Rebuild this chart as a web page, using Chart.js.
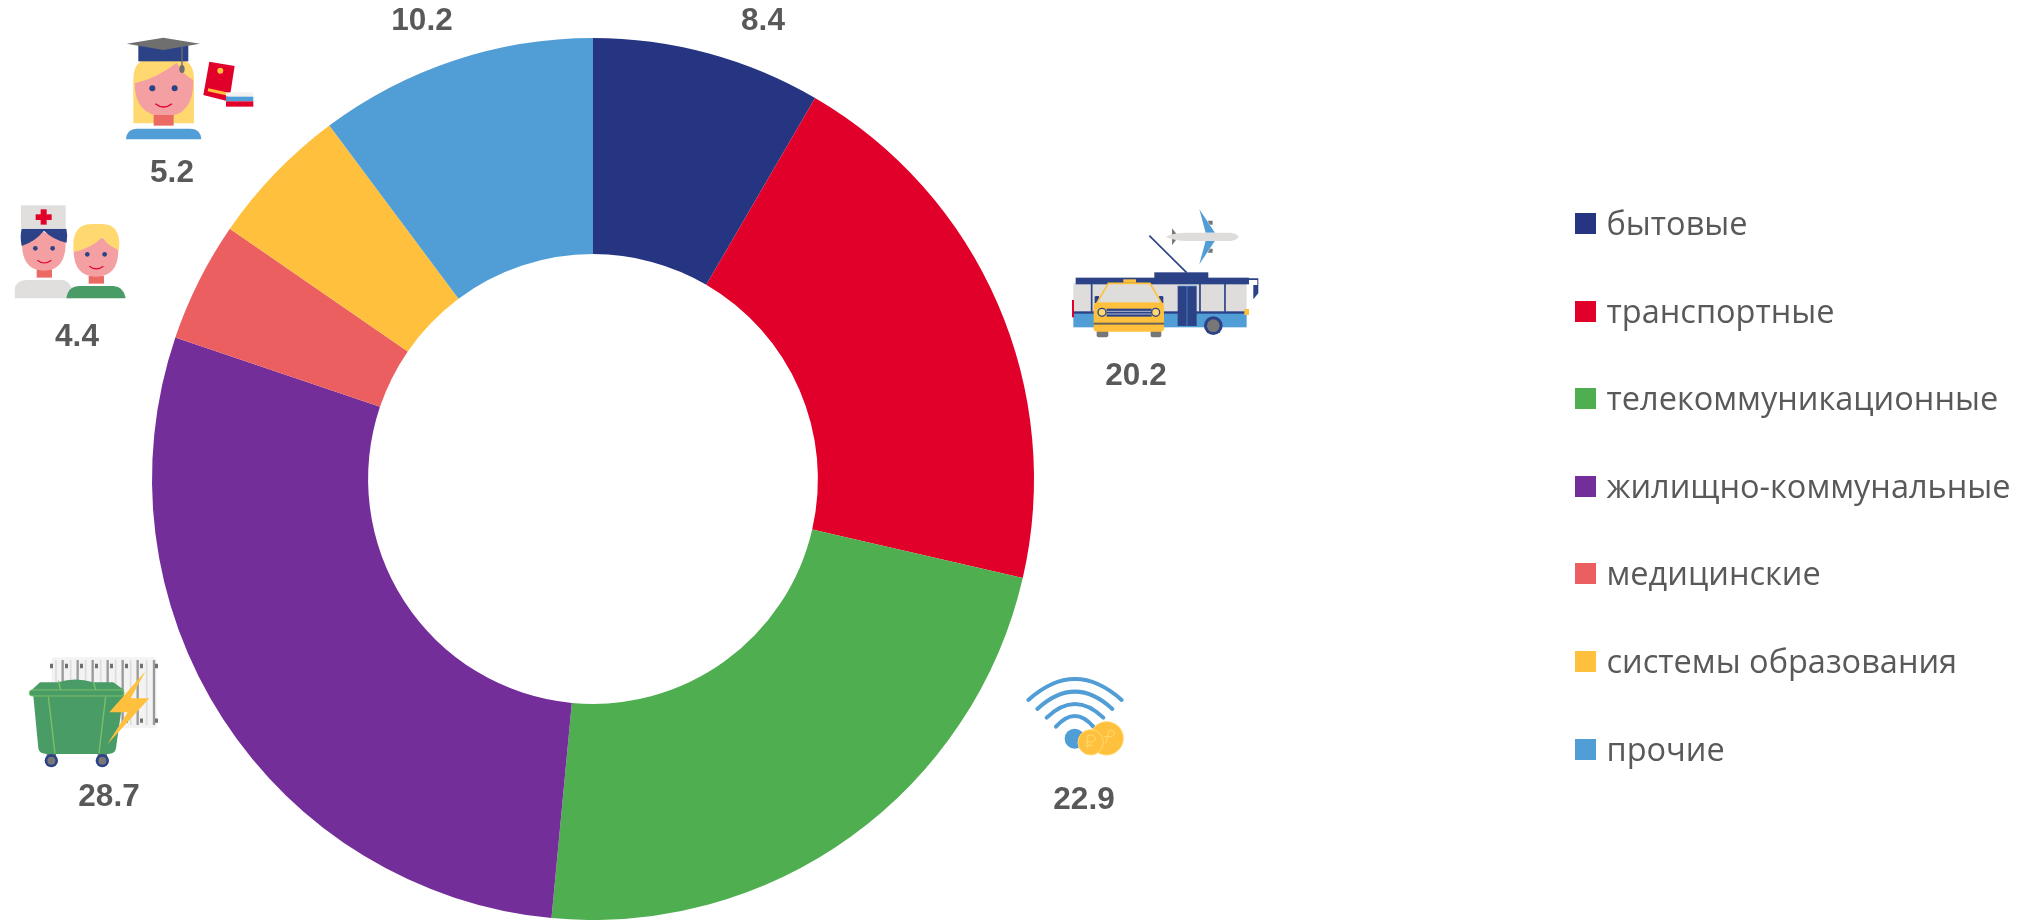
<!DOCTYPE html>
<html lang="ru">
<head>
<meta charset="utf-8">
<title>Платные услуги</title>
<script src="https://cdn.jsdelivr.net/npm/chart.js@4"></script>
<style>
    html, body { margin: 0; background: #fff; overflow: hidden; }
    #wrap { position: relative; width: 2031px; height: 920px; overflow: hidden; }
    #myChart { position: absolute; left: 0; top: 0; }
    #icons { position: absolute; left: 0; top: 0; pointer-events: none; filter: blur(0.5px); }
    #legend { position: absolute; left: 1575px; top: 213px; font: 32.5px "Open Sans", sans-serif; color: #595959; }
    #legend div { position: relative; height: 87.6px; line-height: 20px; padding-left: 31.5px; white-space: nowrap; }
    #legend i { position: absolute; left: 0; top: 0; width: 21px; height: 21px; }
</style>
</head>
<body>
<div id="wrap">
    <canvas id="myChart" width="2031" height="920"></canvas>
    <svg id="icons" width="2031" height="920" viewBox="0 0 2031 920" xmlns="http://www.w3.org/2000/svg">
        <!-- icons are traced at 3x from the reference crops, so each group scales down by 3 -->
        <!-- graduate -->
        <g transform="scale(0.3333)">
            <path d="M400 240 Q400 182 440 180 H545 Q582 185 582 240 V370 H400 Z" fill="#ffd96f"/>
            <path d="M404 250 Q470 235 530 188 Q550 225 580 240 Q582 350 491 350 Q404 345 404 250 Z" fill="#f4a0a2"/>
            <rect x="461" y="345" width="60" height="32" fill="#ec6a64"/>
            <path d="M378 418 Q380 386 410 386 H572 Q602 386 604 418 Z" fill="#519dd6"/>
            <rect x="415" y="135" width="150" height="49" fill="#2b4287"/>
            <path d="M380 131 L490 113 L600 131 L490 150 Z" fill="#6f6f6f"/>
            <path d="M546 140 V200" stroke="#6f6f6f" stroke-width="4"/>
            <ellipse cx="546" cy="207" rx="8" ry="12" fill="#6f6f6f"/>
            <circle cx="457" cy="265" r="9" fill="#2b4287"/>
            <circle cx="524" cy="265" r="9" fill="#2b4287"/>
            <path d="M466 311 Q491 331 516 311" fill="none" stroke="#e1002a" stroke-width="4"/>
            <path d="M628 185 L704 198 L692 275 L678 302 L610 285 Z" fill="#e1002a"/>
            <circle cx="661" cy="212" r="9" fill="#ffc13d"/>
            <path d="M625 265 L680 277 L678 286 L623 274 Z" fill="#ffc13d"/>
            <rect x="678" y="277" width="82" height="13" fill="#f2f2f2"/>
            <rect x="678" y="290" width="82" height="14" fill="#519dd6"/>
            <rect x="678" y="304" width="82" height="16" fill="#e1002a"/>
        </g>
        <!-- nurse and patient -->
        <g transform="scale(0.3333)">
            <path d="M44 895 V870 Q46 840 80 840 H190 Q215 845 225 895 Z" fill="#e0dfdd"/>
            <rect x="110" y="808" width="46" height="25" fill="#ec6a64"/>
            <path d="M66 730 L130 695 L197 725 Q198 812 132 812 Q66 812 66 730 Z" fill="#f4a0a2"/>
            <path d="M65 686 H199 Q204 705 200 728 Q160 720 132 692 Q105 725 65 738 Q59 710 65 686 Z" fill="#2b4287"/>
            <rect x="63" y="616" width="134" height="70" fill="#e0dfdd"/>
            <rect x="122" y="628" width="18" height="46" fill="#e1002a"/>
            <rect x="107" y="643" width="48" height="17" fill="#e1002a"/>
            <circle cx="106" cy="745" r="7" fill="#2b4287"/>
            <circle cx="158" cy="745" r="7" fill="#2b4287"/>
            <path d="M112 781 Q133 797 154 781" fill="none" stroke="#e1002a" stroke-width="3.5"/>
            <path d="M199 895 Q204 858 240 858 H340 Q372 860 377 895 Z" fill="#4a9c66"/>
            <rect x="266" y="828" width="46" height="23" fill="#ec6a64"/>
            <path d="M221 750 L305 712 L355 750 Q355 830 288 830 Q221 830 221 750 Z" fill="#f4a0a2"/>
            <path d="M221 756 Q212 672 275 672 H305 Q365 672 357 750 Q325 740 307 712 Q275 745 221 756 Z" fill="#ffd96f"/>
            <circle cx="262" cy="763" r="7" fill="#2b4287"/>
            <circle cx="314" cy="763" r="7" fill="#2b4287"/>
            <path d="M268 799 Q289 815 310 799" fill="none" stroke="#e1002a" stroke-width="3.5"/>
        </g>
        <!-- trolleybus, taxi and plane -->
        <g transform="translate(1040 200) scale(0.3333)">
            <path d="M478 28 L525 98 H497 Z M478 193 L525 122 H497 Z" fill="#519dd6"/>
            <path d="M503 62 H518 V74 H510 Z M503 158 H518 V146 H510 Z" fill="#777"/>
            <path d="M396 85 L408 100 V120 L396 136 Z" fill="#777"/>
            <path d="M378 110 Q400 98 440 98 H570 Q590 100 596 110 Q590 121 570 123 H440 Q400 122 378 110 Z" fill="#dfdddc"/>
            <path d="M328 107 L440 218" stroke="#2b4287" stroke-width="5"/>
            <rect x="100" y="250" width="520" height="90" fill="#dfdddc"/>
            <rect x="100" y="338" width="520" height="44" fill="#519dd6"/>
            <rect x="343" y="217" width="162" height="20" fill="#2b4287"/>
            <rect x="107" y="233" width="520" height="20" fill="#2b4287"/>
            <rect x="100" y="334" width="520" height="7" fill="#2b4287"/>
            <path d="M155 250 V335 M480 250 V335 M555 250 V335" stroke="#2b4287" stroke-width="5"/>
            <rect x="413" y="258" width="57" height="120" fill="#2b4287"/>
            <path d="M441 258 V378" stroke="#519dd6" stroke-width="2"/>
            <path d="M413 258 H470" stroke="#519dd6" stroke-width="2"/>
            <circle cx="520" cy="377" r="28" fill="#2b4287"/>
            <circle cx="520" cy="377" r="19" fill="#777"/>
            <path d="M627 235 H655 V280 L640 298 V255 H652 V240 H627 Z" fill="#2b4287"/>
            <rect x="96" y="300" width="6" height="52" fill="#e1002a"/>
            <rect x="613" y="327" width="14" height="18" fill="#ffc13d"/>
            <rect x="170" y="390" width="35" height="22" rx="6" fill="#777"/>
            <rect x="332" y="390" width="32" height="22" rx="6" fill="#777"/>
            <rect x="164" y="288" width="14" height="24" rx="4" fill="#2b4287"/>
            <rect x="356" y="288" width="14" height="24" rx="4" fill="#2b4287"/>
            <path d="M205 250 H330 L365 310 H170 Z" fill="#dfdddc" stroke="#ffc13d" stroke-width="5"/>
            <rect x="250" y="238" width="38" height="10" fill="#ffc13d"/>
            <rect x="161" y="308" width="211" height="87" rx="10" fill="#ffc13d"/>
            <rect x="200" y="326" width="135" height="24" fill="#2b4287"/>
            <path d="M200 334 H335 M200 342 H335" stroke="#cfd3e0" stroke-width="2.5"/>
            <circle cx="186" cy="337" r="12" fill="#ffd96f" stroke="#2b4287" stroke-width="4"/>
            <circle cx="347" cy="337" r="12" fill="#ffd96f" stroke="#2b4287" stroke-width="4"/>
            <rect x="161" y="368" width="211" height="6" fill="#6a6456"/>
        </g>
        <!-- wifi and coins -->
        <g transform="translate(1000 660) scale(0.3333)">
            <g fill="none" stroke="#519dd6" stroke-width="12" stroke-linecap="round">
                <path d="M85 120 Q225 -6 365 120"/>
                <path d="M112 147 Q225 43 337 147"/>
                <path d="M140 173 Q225 91 310 173"/>
                <path d="M168 200 Q225 136 280 200"/>
            </g>
            <circle cx="224" cy="236" r="30" fill="#519dd6"/>
            <circle cx="320" cy="235" r="50" fill="#ffc13d" stroke="#ffd96f" stroke-width="3"/>
            <circle cx="272" cy="247" r="38" fill="#ffc13d" stroke="#ffd96f" stroke-width="3"/>
            <path d="M263 268 V226 H280 Q292 236 280 246 H256 M256 256 H278" fill="none" stroke="#ffd96f" stroke-width="3"/>
            <path d="M318 250 L326 212 H340 Q348 222 336 230 H312" fill="none" stroke="#ffd96f" stroke-width="3"/>
        </g>
        <!-- bin, radiator and bolt -->
        <g transform="translate(0 640) scale(0.3333)">
            <rect x="155" y="52" width="315" height="212" rx="8" fill="#f3f3f3"/>
            <path d="M188 60 V255 M233 60 V255 M278 60 V255 M323 60 V255 M368 60 V255 M413 60 V255 M462 60 V255" stroke="#9a9a9a" stroke-width="7"/>
            <path d="M168 60 V255 M212 60 V255 M257 60 V255 M302 60 V255 M347 60 V255 M392 60 V255 M440 60 V255" stroke="#dcdcdc" stroke-width="5"/>
            <path d="M150 78 H475 M150 242 H475" stroke="#6f6f6f" stroke-width="13" stroke-dasharray="9 36"/>
            <rect x="140" y="340" width="28" height="25" fill="#777"/>
            <rect x="293" y="340" width="28" height="25" fill="#777"/>
            <circle cx="154" cy="362" r="20" fill="#2b4287"/>
            <circle cx="154" cy="362" r="12" fill="#777"/>
            <circle cx="307" cy="362" r="20" fill="#2b4287"/>
            <circle cx="307" cy="362" r="12" fill="#777"/>
            <path d="M100 168 H370 L348 325 Q345 342 325 342 H140 Q118 342 115 325 Z" fill="#4a9c66"/>
            <path d="M95 150 L120 127 H175 Q225 110 280 127 H340 L372 150 V168 H95 Z" fill="#4a9c66"/>
            <rect x="88" y="150" width="284" height="18" rx="8" fill="#4a9c66" stroke="#7cc167" stroke-width="3"/>
            <path d="M145 170 L165 340 M317 170 L297 340 M175 122 L182 150 M280 127 L288 150" stroke="#7cc167" stroke-width="4" fill="none"/>
            <path d="M437 93 L328 217 H383 L322 313 L448 175 H392 Z" fill="#ffc13d"/>
        </g>
    </svg>
    <div id="legend"></div>
</div>
<script>
const categories = ['бытовые', 'транспортные', 'телекоммуникационные', 'жилищно-коммунальные', 'медицинские', 'системы образования', 'прочие'];
const shares = [8.4, 20.2, 22.9, 28.7, 4.4, 5.2, 10.2];
const sliceColors = ['#263582', '#e1002a', '#4fae50', '#732e9a', '#ec5f61', '#ffc13d', '#519dd6'];

// where each value label sits on the page
const labelSpots = [[763, 20], [1136, 375], [1084, 799], [109, 796], [77, 336], [172, 172], [422, 20]];

const valueLabels = {
    id: 'valueLabels',
    afterDatasetsDraw(chart) {
        const c = chart.ctx;
        c.save();
        c.font = 'bold 31.5px "Liberation Sans", Arial, sans-serif';
        c.fillStyle = '#595959';
        c.textAlign = 'center';
        c.textBaseline = 'middle';
        shares.forEach((v, i) => {
            c.fillText(v.toFixed(1), labelSpots[i][0], labelSpots[i][1] + 1);
        });
        c.restore();
    }
};

new Chart(document.getElementById('myChart'), {
    type: 'doughnut',
    data: {
        labels: categories,
        datasets: [{
            data: shares,
            backgroundColor: sliceColors,
            borderWidth: 0
        }]
    },
    options: {
        responsive: false,
        animation: false,
        cutout: '51%',
        // ring runs 2px past the bottom edge in the reference
        layout: { padding: { left: 0, right: 845, top: 38, bottom: -2 } },
        plugins: {
            legend: { display: false },
            tooltip: { enabled: false }
        }
    },
    plugins: [valueLabels]
});

// Legend
const legend = document.getElementById('legend');
categories.forEach((name, i) => {
    const row = document.createElement('div');
    const box = document.createElement('i');
    box.style.background = sliceColors[i];
    row.appendChild(box);
    row.appendChild(document.createTextNode(name));
    legend.appendChild(row);
});
</script>
</body>
</html>
